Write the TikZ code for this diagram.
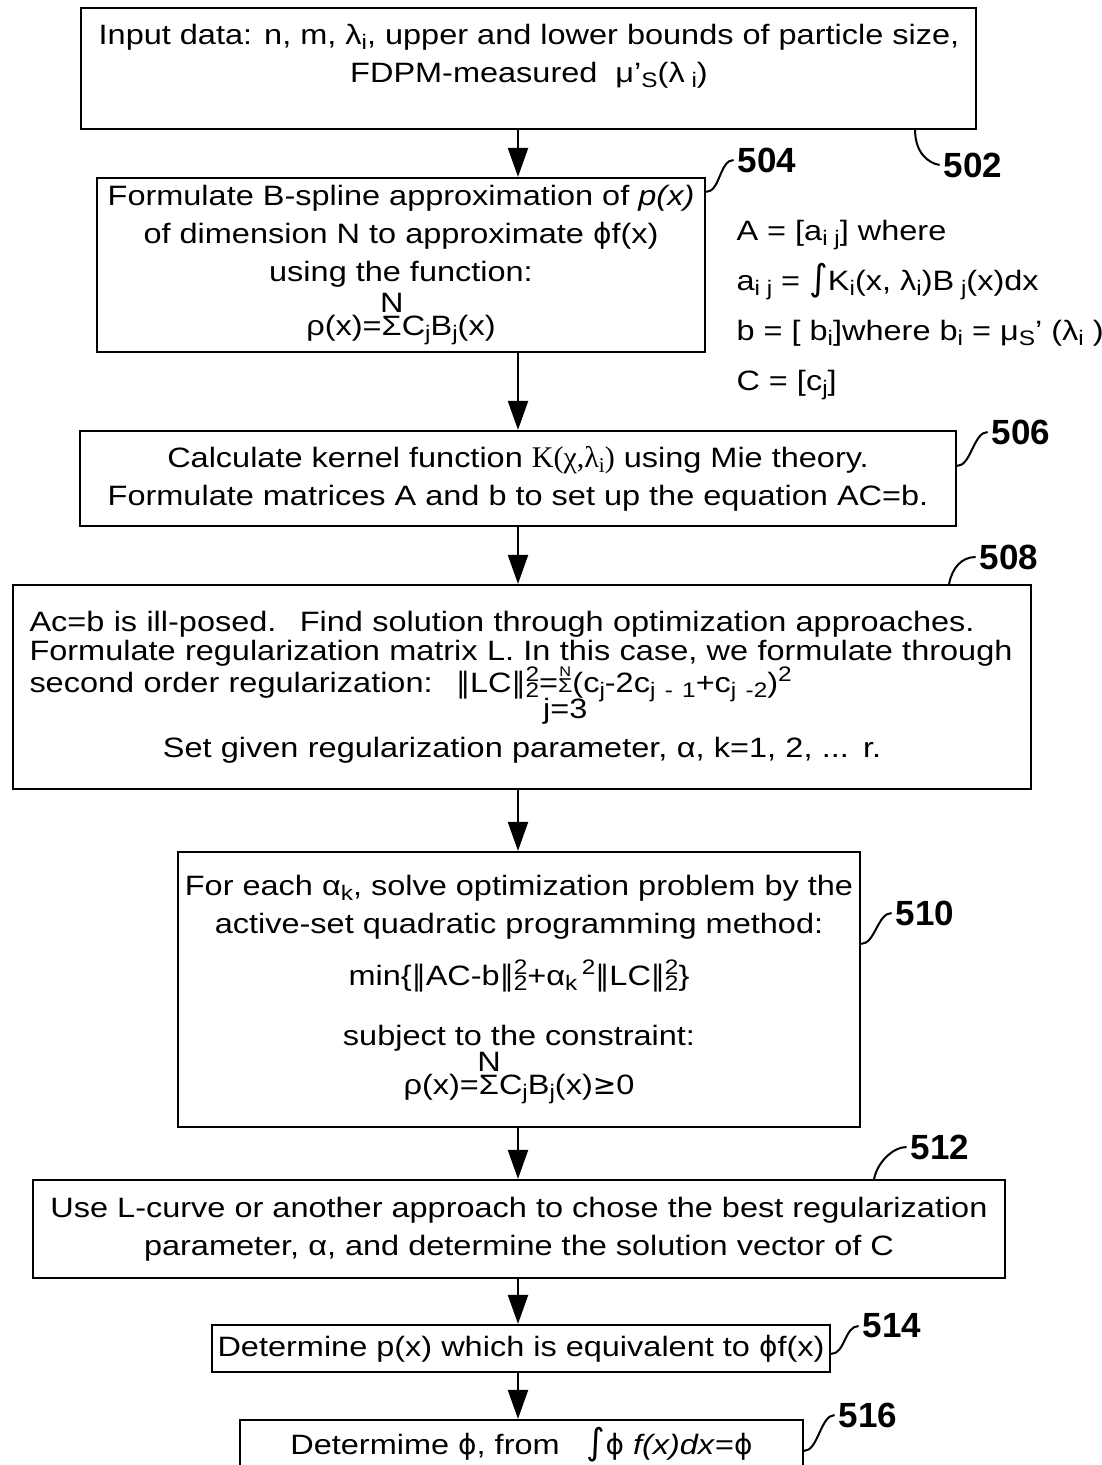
\documentclass[tikz,border=0pt]{standalone}
\usepackage{fontspec}
\setmainfont{Liberation Sans}[FakeStretch=1.16]
\newfontfamily\lblfont{Liberation Sans}
\newfontfamily\dejavu{DejaVu Sans}
\newfontfamily\kserif{Liberation Serif}
\usetikzlibrary{arrows.meta}

\newcommand\lo[1]{\raisebox{-5pt}{\fontsize{21}{21}\selectfont #1}}
\newcommand\hi[1]{\raisebox{11pt}{\fontsize{21}{21}\selectfont #1}}
\newcommand\nsq[1]{{\dejavu ‖}#1{\dejavu ‖}\rlap{\hi{2}}\lo{2}}
\newsavebox\sgbox
\newcommand\sumN{\sbox\sgbox{Σ}%
  \rlap{\makebox[\wd\sgbox]{\raisebox{23pt}{N}}}\usebox\sgbox}
\newcommand\sumNj{\sbox\sgbox{\fontsize{20}{20}\selectfont Σ}%
  \rlap{\makebox[\wd\sgbox]{\raisebox{16pt}[0pt][0pt]{\fontsize{14}{14}\selectfont N}}}%
  \rlap{\makebox[\wd\sgbox]{\raisebox{-26pt}[0pt][0pt]{j=3}}}\usebox\sgbox}
\newcommand\intg{{\dejavu\fontsize{36}{36}\selectfont ∫}}
\newcommand\phig{{\dejavu ϕ}}

\tikzset{
  box/.style={draw, line width=2.2pt, align=center, inner sep=0pt,
    font=\fontsize{28}{38}\selectfont},
  lbl/.style={font=\fontsize{35}{35}\lblfont\bfseries, inner sep=4pt},
  lead/.style={line width=2pt},
  flow/.style={line width=2.2pt, -{Triangle[length=29pt,width=20pt]}}
}

\begin{document}
\begin{tikzpicture}[x=1pt, y=-1pt]
  \useasboundingbox (0,0) rectangle (1102,1465);
  \coordinate (ax) at (518,0);

  \node[box, minimum width=895pt, minimum height=121pt] (b502) at (528.5,68.5) {};
  \node[font=\fontsize{28}{38}\selectfont, align=center] (t502) at (529,56)
    {Input data: n, m, λ\lo{i}, upper and lower bounds of particle size,\\
     FDPM-measured ~μ'\lo{S}(λ\lo{ i})};

  \node[box, minimum width=608pt, minimum height=174pt] (b504) at (401,265)
    {Formulate B-spline approximation of \textit{p(x)}\\
     of dimension N to approximate \phig f(x)\\
     using the function:\\[4pt]
     ρ(x)=\sumN C\lo{j}B\lo{j}(x)};

  \node[font=\fontsize{28}{50}\selectfont, align=left, anchor=west] (defs) at (733,310)
    {A = [a\lo{i j}] where\\
     a\lo{i j} = \intg K\lo{i}(x, λ\lo{i})B\lo{ j}(x)dx\\
     b = [ b\lo{i}]where b\lo{i} = μ\lo{S}' (λ\lo{i} )\\
     C = [c\lo{j}]};

  \node[box, minimum width=876pt, minimum height=95pt] (b506) at (518,478.5)
    {Calculate kernel function {\kserif\fontsize{30}{30}\selectfont K(χ,λ\lo{i})} using Mie theory.\\
     Formulate matrices A and b to set up the equation AC=b.};

  \node[box, minimum width=1018pt, minimum height=204pt, text width=985pt, align=left,
    font=\fontsize{28}{29}\selectfont] (b508) at (522,687)
    {Ac=b is ill-posed.~ Find solution through optimization approaches.\\
     Formulate regularization matrix L. In this case, we formulate through\\
     second order regularization: ~\nsq{LC}=\sumNj(c\lo{j}-2c\lo{j - 1}+c\lo{j -2})\hi{2}\\[34pt]
     \makebox[\linewidth]{Set given regularization parameter, α, k=1, 2, ... r.}};

  \node[box, minimum width=682pt, minimum height=275pt] (b510) at (519,989.5)
    {For each α\lo{k}, solve optimization problem by the\\
     active-set quadratic programming method:\\[14pt]
     min\{\nsq{AC-b}+α\lo{k}\,\hi{2}\nsq{LC}\}\\[22pt]
     subject to the constraint:\\
     ρ(x)=\sumN C\lo{j}B\lo{j}(x){\dejavu ≥}0};

  \node[box, minimum width=972pt, minimum height=98pt] (b512) at (519,1229)
    {Use L-curve or another approach to chose the best regularization\\
     parameter, α, and determine the solution vector of C};

  \node[box, minimum width=618pt, minimum height=47pt] (b514) at (521,1348.5)
    {Determine p(x) which is equivalent to \phig f(x)};

  \node[box, minimum width=563pt, minimum height=50pt] (b516) at (521.5,1445)
    {Determime \phig, from ~~\intg\phig\ \textit{f(x)dx}=\phig};

  \node[lbl] (l502) at (973,165) {502};
  \node[lbl] (l504) at (767,160) {504};
  \node[lbl] (l506) at (1021,432) {506};
  \node[lbl] (l508) at (1009,557) {508};
  \node[lbl] (l510) at (925,913) {510};
  \node[lbl] (l512) at (940,1147) {512};
  \node[lbl] (l514) at (892,1326) {514};
  \node[lbl] (l516) at (868,1415) {516};

  \draw[lead] ([xshift=-62pt]b502.south east) .. controls +(0,22) and +(-12,-2) .. (l502.west);
  \draw[lead] ([yshift=-15pt]b504.north east) .. controls +(14,0) and +(-14,0) .. (l504.west);
  \draw[lead] ([yshift=-36pt]b506.north east) .. controls +(14,0) and +(-14,0) .. (l506.west);
  \draw[lead] ([xshift=-83pt]b508.north east) .. controls +(3,-16) and +(-14,0) .. (l508.west);
  \draw[lead] ([yshift=-93pt]b510.north east) .. controls +(14,0) and +(-14,0) .. (l510.west);
  \draw[lead] ([xshift=-132pt]b512.north east) .. controls +(3,-16) and +(-14,0) .. (l512.west);
  \draw[lead] ([yshift=-30pt]b514.north east) .. controls +(14,0) and +(-14,0) .. (l514.west);
  \draw[lead] ([yshift=-32pt]b516.north east) .. controls +(14,0) and +(-14,0) .. (l516.west);

  \draw[flow] (b502.south -| ax) -- (b504.north -| ax);
  \draw[flow] (b504.south -| ax) -- (b506.north -| ax);
  \draw[flow] (b506.south -| ax) -- (b508.north -| ax);
  \draw[flow] (b508.south -| ax) -- (b510.north -| ax);
  \draw[flow] (b510.south -| ax) -- (b512.north -| ax);
  \draw[flow] (b512.south -| ax) -- (b514.north -| ax);
  \draw[flow] (b514.south -| ax) -- (b516.north -| ax);
\end{tikzpicture}
\end{document}
